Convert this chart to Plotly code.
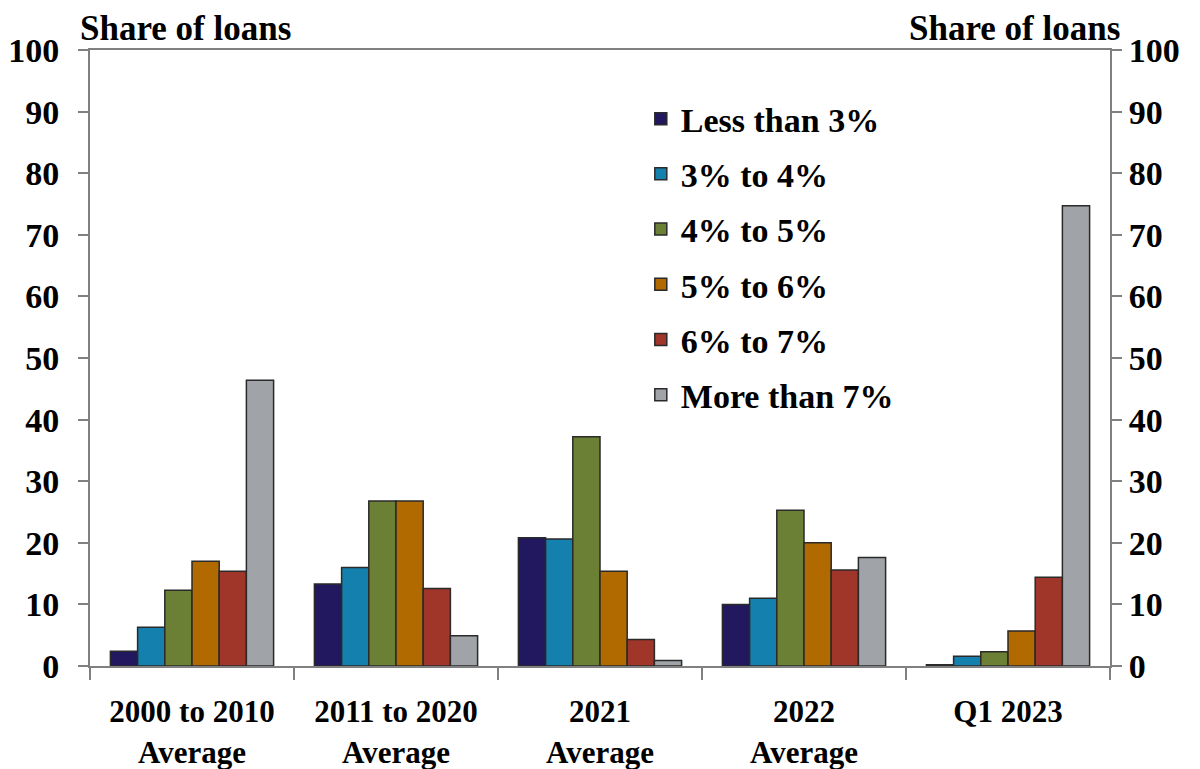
import plotly.graph_objects as go

categories = ["2000 to 2010<br>Average", "2011 to 2020<br>Average", "2021<br>Average",
              "2022<br>Average", "Q1 2023"]
series_names = ["Less than 3%", "3% to 4%", "4% to 5%", "5% to 6%", "6% to 7%", "More than 7%"]
less_than_3 = [2.4, 13.3, 20.8, 10.0, 0.2]
from_3_to_4 = [6.3, 16.0, 20.6, 11.0, 1.6]
from_4_to_5 = [12.3, 26.8, 37.2, 25.3, 2.3]
from_5_to_6 = [17.0, 26.8, 15.4, 20.0, 5.7]
from_6_to_7 = [15.4, 12.6, 4.3, 15.6, 14.4]
more_than_7 = [46.4, 4.9, 0.9, 17.6, 74.7]
y_ticks = [0, 10, 20, 30, 40, 50, 60, 70, 80, 90, 100]

series_values = [less_than_3, from_3_to_4, from_4_to_5, from_5_to_6, from_6_to_7, more_than_7]
colors = ["#21185f", "#1480ad", "#6b8034", "#b06a00", "#a0352a", "#a0a4a8"]

FONT = "Liberation Serif"

fig = go.Figure()
for i, (name, vals, col) in enumerate(zip(series_names, series_values, colors)):
    fig.add_trace(go.Bar(
        x=categories, y=vals, name=name, legendgroup=f"g{i}",
        marker=dict(color=col, line=dict(color="#2a2a2a", width=1.5)),
    ))

# invisible trace to anchor the right-hand axis
fig.add_trace(go.Scatter(x=[categories[0]], y=[0], yaxis="y2", mode="markers",
                         marker=dict(opacity=0), showlegend=False, hoverinfo="skip"))

axis_line = "#808080"
fig.update_layout(
    width=1200, height=769,
    margin=dict(l=82, r=98, t=42, b=111),
    plot_bgcolor="white", paper_bgcolor="white",
    barmode="group", bargap=0.2, bargroupgap=0,
    font=dict(family=FONT, size=34, color="black", weight="bold"),
    showlegend=True,
    legend=dict(x=0.540, y=0.935, xanchor="left", yanchor="top",
                font=dict(family=FONT, size=34, color="black", weight="bold"),
                tracegroupgap=8, bgcolor="rgba(0,0,0,0)"),
    xaxis=dict(
        type="category", tickson="boundaries", ticks="outside", ticklen=12,
        tickcolor=axis_line, tickwidth=2, automargin=False,
        showline=True, linecolor=axis_line, linewidth=2, mirror=True,
        tickfont=dict(family=FONT, size=31, color="black", weight="bold"),
        ticklabelstandoff=17,
        showgrid=False,
    ),
    yaxis=dict(
        range=[0, 100], tickvals=y_ticks, ticks="outside", ticklen=10,
        tickcolor=axis_line, tickwidth=2, automargin=False,
        showline=True, linecolor=axis_line, linewidth=2,
        showgrid=False, zeroline=False,
        tickfont=dict(family=FONT, size=34, color="black", weight="bold"),
        ticklabelstandoff=12,
    ),
    yaxis2=dict(
        range=[0, 100], tickvals=y_ticks, overlaying="y", side="right",
        ticks="outside", ticklen=10, tickcolor=axis_line, tickwidth=2, automargin=False,
        showline=True, linecolor=axis_line, linewidth=2,
        showgrid=False, zeroline=False,
        tickfont=dict(family=FONT, size=34, color="black", weight="bold"),
    ),
    annotations=[
        dict(text="<b>Share of loans</b>", xref="paper", yref="paper",
             x=-0.012, y=1.0, xanchor="left", yanchor="bottom", showarrow=False,
             font=dict(family=FONT, size=35, color="black")),
        dict(text="<b>Share of loans</b>", xref="paper", yref="paper",
             x=1.012, y=1.0, xanchor="right", yanchor="bottom", showarrow=False,
             font=dict(family=FONT, size=35, color="black")),
    ],
)

fig.write_html("out.html")
